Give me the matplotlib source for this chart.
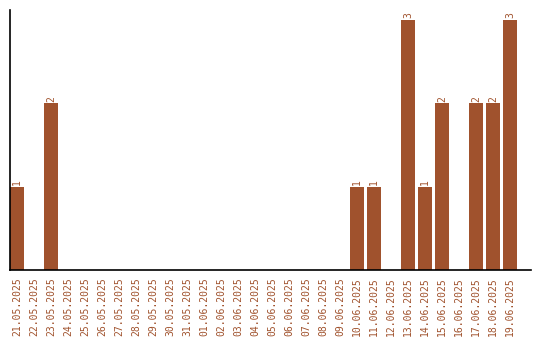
import matplotlib
matplotlib.use("Agg")
import matplotlib.pyplot as plt
import pandas as pd

dates = pd.date_range("2025-05-21", "2025-06-19", freq="D")
labels = [d.strftime("%d.%m.%Y") for d in dates]
counts_by_date = {
    "21.05.2025": 1,
    "23.05.2025": 2,
    "10.06.2025": 1,
    "11.06.2025": 1,
    "13.06.2025": 3,
    "14.06.2025": 1,
    "15.06.2025": 2,
    "17.06.2025": 2,
    "18.06.2025": 2,
    "19.06.2025": 3,
}
values = [counts_by_date.get(lbl, 0) for lbl in labels]

color = "#A0522D"
fig = plt.figure(figsize=(5.4, 3.4), dpi=100)
ax = fig.add_axes([10 / 540, 70 / 340, 521 / 540, 260 / 340])

x = list(range(len(labels)))
ax.bar(x, values, width=0.82, align="edge", color=color)
for xi, v in zip(x, values):
    if v > 0:
        ax.text(xi + 0.41, v + 0.02, str(v), rotation=90, ha="center", va="bottom",
                color=color, fontsize=7, family="DejaVu Sans Mono")

ax.set_xlim(0, 30.65)
ax.set_ylim(0, 3.12)
ax.set_xticks([xi + 0.41 for xi in x])
ax.set_xticklabels(labels, rotation=90, color=color, fontsize=7, family="DejaVu Sans Mono")
ax.tick_params(axis="x", length=0, pad=5)
ax.set_yticks([])
ax.spines["top"].set_visible(False)
ax.spines["right"].set_visible(False)
ax.spines["left"].set_linewidth(1.2)
ax.spines["bottom"].set_linewidth(1.2)

fig.savefig("out.png", dpi=100)
